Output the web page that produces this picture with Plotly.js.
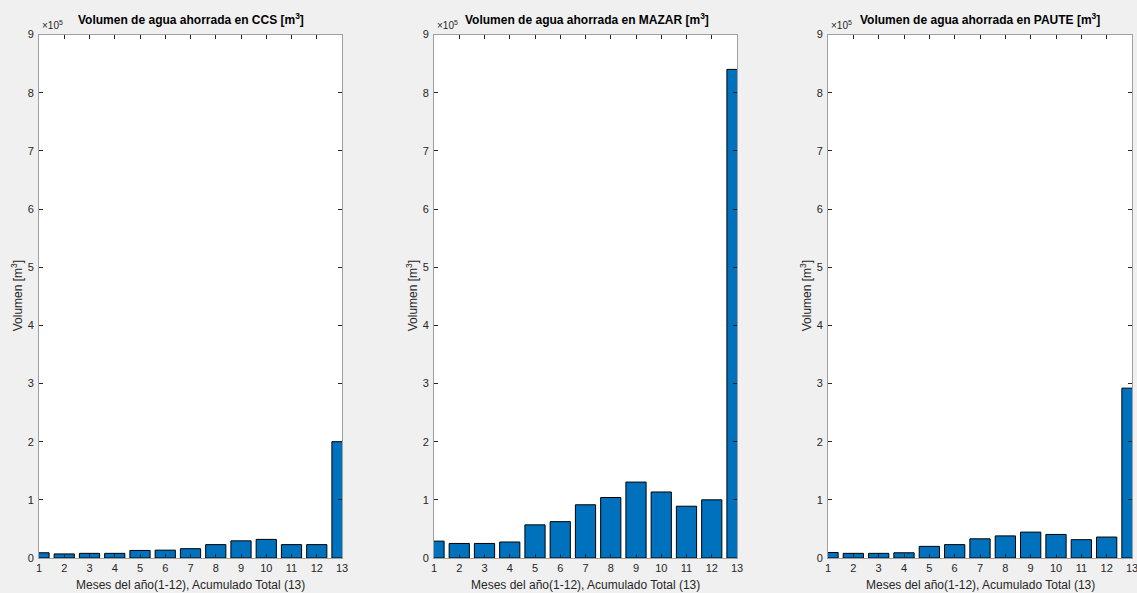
<!DOCTYPE html>
<html>
<head>
<meta charset="utf-8">
<script src="https://cdn.plot.ly/plotly-3.0.1.min.js"></script>
<style>html,body{margin:0;padding:0;background:#f0f0f0;}#chart{width:1137px;height:593px;}</style>
</head>
<body>
<div id="chart"></div>
<script>
// Data (m^3), months 1-12 and accumulated total (13)
const meses = [1,2,3,4,5,6,7,8,9,10,11,12,13];
const ccs   = [9000, 7000, 8000, 8000, 13000, 13500, 16000, 23000, 29500, 32000, 23000, 23000, 200000];
const mazar = [29000, 25000, 25000, 27500, 57000, 62500, 91500, 104000, 130500, 113500, 89000, 100000, 840000];
const paute = [9500, 8000, 8000, 9000, 20000, 23000, 33000, 38000, 44500, 40500, 31500, 36000, 292000];
const titulos = ['Volumen de agua ahorrada en CCS [m<sup>3</sup>]',
                 'Volumen de agua ahorrada en MAZAR [m<sup>3</sup>]',
                 'Volumen de agua ahorrada en PAUTE [m<sup>3</sup>]'];
const yTickVals = [0,1,2,3,4,5,6,7,8,9].map(v => v*1e5);
const yTickText = ['0','1','2','3','4','5','6','7','8','9'];
const xTitle = 'Meses del año(1-12), Acumulado Total (13)';
const yTitle = 'Volumen [m<sup>3</sup>]';

const W = 1137, H = 593;
const panels = [[39, 342], [434, 737], [828, 1132]];
const yTop = 34.5, yBot = 558;
const series = [ccs, mazar, paute];
const font = 'Liberation Sans, Arial, Helvetica, sans-serif';
const axCol = '#262626';

const data = [];
const layout = {
  width: W, height: H,
  margin: {l:0, r:0, t:0, b:0},
  paper_bgcolor: '#f0f0f0',
  plot_bgcolor: '#ffffff',
  showlegend: false,
  bargap: 0.2,
  font: {family: font, color: axCol, size: 11},
  annotations: []
};

series.forEach((s, i) => {
  const xa = i === 0 ? 'x' : 'x' + (i+1);
  const ya = i === 0 ? 'y' : 'y' + (i+1);
  data.push({
    type: 'bar', x: meses, y: s, xaxis: xa, yaxis: ya,
    width: 0.8,
    marker: {color: '#0072BD', line: {color: '#000000', width: 1}},
    hoverinfo: 'x+y'
  });
  const xd = [panels[i][0]/W, panels[i][1]/W];
  const yd = [1 - yBot/H, 1 - yTop/H];
  const axCommon = {
    showline: true, linecolor: '#a0a0a0', linewidth: 1, mirror: 'ticks',
    ticks: 'inside', ticklen: 4, tickcolor: axCol, tickwidth: 1,
    showgrid: false, zeroline: false,
    tickfont: {family: font, size: 11, color: axCol}
  };
  layout['xaxis' + (i===0 ? '' : i+1)] = Object.assign({}, axCommon, {
    domain: xd, range: [1, 13], tickvals: meses, anchor: ya,
    ticklabelstandoff: 0, ticklabeloverflow: 'allow'
  });
  layout['yaxis' + (i===0 ? '' : i+1)] = Object.assign({}, axCommon, {
    domain: yd, range: [0, 9e5], tickvals: yTickVals, ticktext: yTickText,
    anchor: xa, ticklabelstandoff: 2
  });
  const cx = (panels[i][0] + panels[i][1]) / 2 / W;
  // subplot title
  layout.annotations.push({
    xref: 'paper', yref: 'paper', x: cx + (i === 1 ? 1/W : 0), y: 1 - 19/H,
    text: '<b>' + titulos[i] + '</b>', showarrow: false,
    font: {family: font, size: 12, color: '#000000'}, xanchor: 'center', yanchor: 'middle'
  });
  // exponent
  layout.annotations.push({
    xref: 'paper', yref: 'paper', x: (panels[i][0] + 1)/W, y: 1 - (yTop - 2)/H,
    text: '×10<sup>5</sup>', showarrow: false,
    font: {family: font, size: 10, color: axCol}, xanchor: 'left', yanchor: 'bottom'
  });
  // x title
  layout.annotations.push({
    xref: 'paper', yref: 'paper', x: cx, y: 1 - 585/H,
    text: xTitle, showarrow: false,
    font: {family: font, size: 12, color: axCol}, xanchor: 'center', yanchor: 'middle'
  });
  // y title
  layout.annotations.push({
    xref: 'paper', yref: 'paper', x: (panels[i][0] - 22)/W, y: 1 - ((yTop + yBot)/2)/H,
    text: yTitle, showarrow: false, textangle: -90,
    font: {family: font, size: 12, color: axCol}, xanchor: 'center', yanchor: 'middle'
  });
});

Plotly.newPlot('chart', data, layout, {displayModeBar: false, staticPlot: true});
</script>
</body>
</html>
